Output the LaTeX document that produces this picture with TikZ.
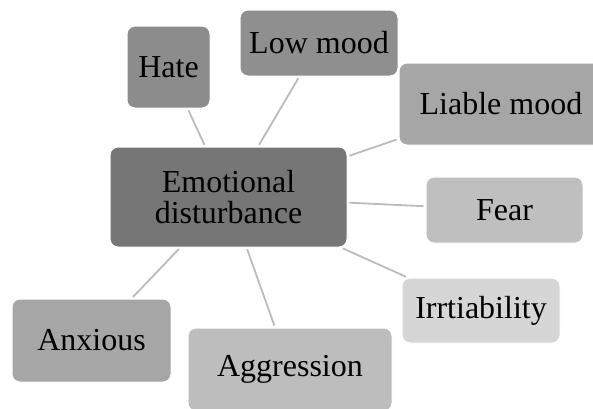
\documentclass[tikz,border=0pt]{standalone}
\usepackage{fontspec}
\setmainfont{Liberation Serif}
\definecolor{hubgray}{HTML}{767676}
\definecolor{linkgray}{HTML}{BBBBBB}
\begin{document}
\begin{tikzpicture}[x=1pt,y=-1pt,
  box/.style={rounded corners=8pt, draw=white, line width=1pt, inner sep=0pt,
    align=center, text=black, font=\fontsize{32}{31}\selectfont},
  link/.style={draw=linkgray, line width=1.8pt, shorten <=2pt, shorten >=2pt}]
\useasboundingbox (0,0) rectangle (593,408);
\clip (0,0) rectangle (593,408);

% central topic
\node[box, fill=hubgray, minimum width=237pt, minimum height=100pt]
  (hub) at (228.5,197) {Emotional\\disturbance};

% surrounding topics
\node[box, fill=black!45, minimum width=83pt, minimum height=82pt]
  (hate) at (168.5,67) {Hate};
\node[box, fill=black!44, minimum width=158pt, minimum height=66pt]
  (low) at (319,43) {Low mood};
\node[box, fill=black!35, minimum width=204pt, minimum height=82pt]
  (liable) at (501,104) {Liable mood};
\node[box, fill=black!25, minimum width=157pt, minimum height=66pt]
  (fear) at (504.5,210) {Fear};
\node[box, fill=black!16, minimum width=158pt, minimum height=65pt]
  (irrt) at (481,310.5) {Irrtiability};
\node[box, fill=black!26, minimum width=204pt, minimum height=83pt]
  (aggr) at (290,369.5) {Aggression};
\node[box, fill=black!35, minimum width=159pt, minimum height=83pt]
  (anx) at (91.5,340.5) {Anxious};

% spokes
\draw[link] (hub) -- (hate);
\draw[link] (hub) -- (low);
\draw[link] (hub) -- (liable);
\draw[link] (hub) -- (fear);
\draw[link] (hub) -- (irrt);
\draw[link] (hub) -- (aggr);
\draw[link] (hub) -- (anx);
\end{tikzpicture}
\end{document}
